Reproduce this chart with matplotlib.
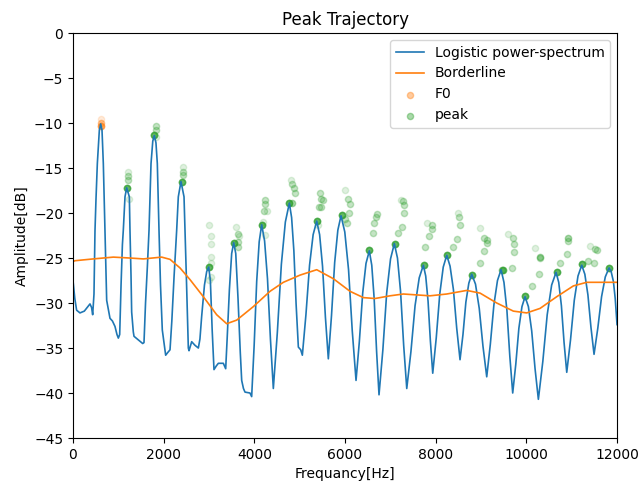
import numpy as np
import matplotlib
matplotlib.use("Agg")
import matplotlib.pyplot as plt

# Logistic power-spectrum (Hz, dB)
spec_freq = [0, 40, 80, 154, 250, 330, 375, 410, 434, 463, 485, 507, 537, 581, 611, 640, 669, 706, 730, 743,
             816, 870, 926, 970, 1000, 1030, 1060, 1090, 1110, 1147, 1184, 1220, 1243, 1257, 1280, 1294, 1330, 1346,
             1441, 1537, 1566, 1600, 1640, 1677, 1721, 1760, 1794, 1830, 1860, 1897, 1930, 1970, 2030, 2044, 2090,
             2140, 2180, 2230, 2287, 2323, 2382, 2449, 2471, 2500, 2544, 2559, 2618, 2691, 2765, 2800, 2838, 2900,
             2949, 2993, 3030, 3070, 3110, 3160, 3206, 3316, 3368, 3400, 3450, 3500, 3545, 3590, 3640, 3690, 3721,
             3760, 3794, 3904, 3941, 3996, 4052, 4107, 4162, 4226, 4290, 4355, 4419, 4507, 4596, 4684, 4772, 4822,
             4872, 4921, 4971, 5023, 5059, 5138, 5218, 5297, 5376, 5440, 5504, 5568, 5632, 5702, 5772, 5842, 5912,
             5995, 6078, 6160, 6243, 6316, 6390, 6463, 6536, 6590, 6643, 6697, 6750, 6835, 6919, 7004, 7088, 7157,
             7225, 7294, 7362, 7454, 7545, 7637, 7728, 7780, 7832, 7883, 7935, 8012, 8090, 8167, 8244, 8317, 8391,
             8464, 8537, 8602, 8666, 8731, 8795, 8878, 8961, 9043, 9126, 9205, 9284, 9363, 9442, 9506, 9571, 9635,
             9699, 9767, 9835, 9903, 9971, 10045, 10118, 10192, 10265, 10363, 10460, 10558, 10655, 10714, 10773,
             10832, 10891, 10974, 11057, 11139, 11222, 11290, 11358, 11425, 11493, 11576, 11659, 11741, 11824,
             11870, 11920, 11960, 12000]
spec_db = [-27.5, -29.5, -30.8, -31.1, -30.9, -30.4, -30.1, -30.5, -31.3, -29.0, -22.0, -18.5, -14.5, -10.8, -10.1,
           -10.8, -14.5, -21.9, -27.0, -29.7, -31.7, -32.0, -32.6, -33.5, -33.9, -33.5, -28.0, -23.5, -21.9, -18.2,
           -17.2, -17.8, -18.2, -21.9, -27.0, -31.0, -33.2, -33.7, -34.1, -34.5, -34.4, -30.0, -26.0, -21.9, -14.5,
           -12.0, -11.4, -12.2, -14.5, -21.9, -28.0, -33.0, -35.2, -35.8, -35.5, -35.2, -32.0, -27.0, -21.9, -18.2,
           -16.5, -18.2, -21.9, -27.0, -35.0, -35.3, -34.3, -34.7, -35.0, -34.0, -31.5, -28.0, -26.5, -26.0, -27.5,
           -33.0, -37.4, -37.0, -36.7, -36.7, -37.3, -34.0, -28.5, -24.5, -23.3, -24.5, -29.5, -35.5, -38.6, -39.5,
           -39.9, -40.0, -40.4, -34.7, -27.6, -23.2, -21.3, -23.1, -27.3, -34.0, -39.5, -33.3, -25.7, -21.0, -18.9,
           -20.5, -24.2, -30.1, -34.9, -35.2, -35.8, -31.3, -25.8, -22.4, -20.9, -22.4, -25.9, -31.6, -36.2, -31.4,
           -25.5, -21.9, -20.3, -22.1, -26.3, -33.1, -38.6, -34.3, -28.9, -25.6, -24.2, -25.8, -29.5, -35.4, -40.2,
           -35.2, -28.9, -25.1, -23.4, -25.0, -28.7, -34.7, -39.5, -35.4, -30.3, -27.2, -25.8, -27.0, -29.8, -34.2,
           -37.8, -33.9, -29.0, -26.0, -24.7, -25.9, -28.5, -32.8, -36.3, -33.5, -29.9, -27.8, -26.8, -27.9, -30.6,
           -34.8, -38.2, -34.6, -30.2, -27.5, -26.3, -27.7, -30.8, -35.9, -40.0, -36.8, -32.8, -30.4, -29.3, -30.4,
           -33.1, -37.3, -40.7, -36.5, -31.3, -28.0, -26.6, -27.7, -30.3, -34.4, -37.7, -34.1, -29.7, -27.0, -25.8,
           -26.8, -29.1, -32.7, -35.7, -32.8, -29.3, -27.1, -26.1, -26.5, -27.6, -29.5, -32.4]

# Borderline (Hz, dB)
border_freq = [0, 44, 450, 890, 1250, 1551, 1956, 2140, 2360, 2581, 2875, 3169, 3390, 3611, 3978, 4346, 4640,
               5008, 5376, 5743, 6111, 6405, 6662, 6993, 7287, 7581, 7875, 8244, 8685, 8979, 9347, 9713, 10008,
               10302, 10670, 11037, 11331, 11699, 12000]
border_db = [-25.4, -25.3, -25.1, -24.9, -25.0, -25.1, -24.9, -25.15, -26.1, -27.4, -29.3, -31.3, -32.3, -31.9,
             -30.4, -28.7, -27.7, -26.9, -26.3, -27.3, -28.7, -29.4, -29.5, -29.2, -29.0, -29.1, -29.2, -29.0,
             -28.6, -28.9, -30.0, -30.9, -31.1, -30.6, -29.3, -28.1, -27.7, -27.7, -27.7]

# F0 trajectory (Hz, dB, number of frames)
f0_freq = [618, 615, 613]
f0_db = [-9.6, -10.0, -10.3]
f0_count = [1, 3, 6]

# Harmonic peak trajectory (Hz, dB, number of frames)
peak_freq = [1220, 1220, 1220, 1184, 1230,
             1831, 1831, 1840, 1787,
             2433, 2433, 2433, 2397,
             3000, 3044, 3044, 3044, 3044, 2993, 3044, 3000,
             3590, 3650, 3660, 3650, 3560, 3650,
             4236, 4236, 4214, 4273, 4199, 4236, 4162,
             4809, 4838, 4882, 4897, 4772, 4830,
             5449, 5464, 5508, 5420, 5464, 5376, 5410,
             6000, 6073, 6111, 6094, 5927, 6000, 6051,
             6700, 6685, 6647, 6611, 6536,
             7229, 7287, 7302, 7302, 7251, 7177, 7103,
             7802, 7913, 7913, 7861, 7765, 7743,
             8500, 8522, 8537, 8464, 8376, 8244,
             8979, 9074, 9125, 9125, 9074, 8979, 8809,
             9589, 9713, 9735, 9735, 9691, 9493, 9457,
             10192, 10302, 10302, 10280, 10133, 9971,
             10913, 10913, 10891, 10743, 10670,
             11405, 11515, 11552, 11500, 11354, 11222,
             11824]
peak_db = [-15.4, -15.9, -16.3, -17.2, -18.4,
           -10.3, -10.8, -11.5, -11.3,
           -14.9, -15.4, -15.8, -16.5,
           -21.3, -22.6, -23.4, -24.9, -25.6, -26.0, -27.1, -27.4,
           -21.5, -22.3, -22.6, -23.2, -23.3, -23.8,
           -18.6, -19.0, -19.8, -19.8, -21.0, -22.4, -21.3,
           -16.3, -16.8, -17.2, -17.8, -18.9, -18.9,
           -17.8, -18.4, -18.6, -19.3, -19.3, -20.9, -21.3,
           -17.4, -18.4, -19.0, -20.0, -20.2, -20.7, -21.1,
           -20.1, -20.4, -21.1, -22.2, -24.1,
           -18.6, -18.7, -19.1, -20.0, -21.6, -22.2, -23.4,
           -21.1, -21.3, -21.8, -22.6, -23.8, -25.8,
           -20.0, -20.4, -21.3, -22.9, -23.8, -24.7,
           -21.7, -22.8, -23.0, -23.3, -24.2, -25.5, -26.9,
           -22.3, -22.8, -23.4, -24.3, -26.1, -26.3, -26.3,
           -23.9, -24.9, -25.0, -26.8, -28.1, -29.2,
           -22.8, -23.1, -24.6, -25.5, -26.6,
           -23.7, -24.0, -24.1, -25.5, -25.3, -25.7,
           -26.1]
peak_count = [1, 2, 2, 8, 1,
              2, 2, 1, 8,
              1, 2, 2, 8,
              1, 1, 1, 1, 1, 8, 1, 1,
              1, 2, 1, 2, 8, 2,
              2, 2, 2, 1, 1, 1, 8,
              1, 2, 2, 2, 8, 3,
              2, 2, 2, 2, 2, 8, 1,
              1, 2, 2, 2, 8, 2, 2,
              2, 2, 2, 2, 8,
              1, 2, 2, 2, 2, 2, 8,
              1, 2, 2, 2, 2, 8,
              1, 2, 2, 2, 2, 8,
              1, 2, 2, 2, 2, 2, 8,
              1, 2, 2, 2, 2, 6, 4,
              1, 3, 2, 2, 2, 8,
              3, 2, 2, 2, 8,
              1, 2, 2, 2, 2, 8,
              8]

fig = plt.figure(figsize=(6.42, 4.87), dpi=100)
ax = fig.add_axes([0.1137, 0.1006, 0.8474, 0.8316])

ax.plot(spec_freq, spec_db, color="C0", lw=1.2, label="Logistic power-spectrum")
ax.plot(border_freq, border_db, color="C1", lw=1.2, label="Borderline")
ax.scatter(np.repeat(f0_freq, f0_count), np.repeat(f0_db, f0_count), s=20, color="C1", alpha=0.15, label="F0")
ax.scatter(np.repeat(peak_freq, peak_count), np.repeat(peak_db, peak_count), s=20, color="C2", alpha=0.15,
           label="peak")

ax.set_xlim(0, 12000)
ax.set_ylim(-45, 0)
ax.set_xticks(np.arange(0, 12001, 2000))
ax.set_yticks(np.arange(-45, 1, 5))
ax.set_title("Peak Trajectory")
ax.set_xlabel("Frequancy[Hz]")
ax.set_ylabel("Amplitude[dB]")
leg = ax.legend(loc="upper right")
for h in leg.legend_handles[2:]:
    h.set_alpha(0.4)

fig.savefig("out.png", dpi=100)
